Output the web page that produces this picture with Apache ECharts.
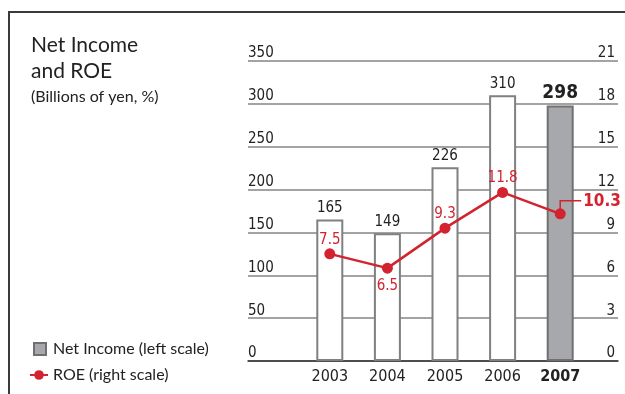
<!DOCTYPE html>
<html>
<head>
<meta charset="utf-8">
<script src="https://cdn.jsdelivr.net/npm/echarts@6/dist/echarts.min.js"></script>
<style>
  html, body { margin: 0; padding: 0; background: #fff; }
  #chart { width: 625px; height: 394px; }
</style>
</head>
<body>
<div id="chart"></div>
<script>
// Fiscal years and values
const years = ['2003', '2004', '2005', '2006', '2007'];
const netIncome = [165, 149, 226, 310, 298];   // billions of yen (left scale)
const roe = [7.5, 6.5, 9.3, 11.8, 10.3];        // percent (right scale)
const leftTicks = { min: 0, max: 350, interval: 50 };
const rightTicks = { min: 0, max: 21, interval: 3 };

const NARROW = '"DejaVu Sans Condensed", "Liberation Sans Narrow", sans-serif';
const HUMAN = 'Lato, "Open Sans", sans-serif';
const RED = '#d2232f';
const GRID_GRAY = '#858585';
const last = years.length - 1;

const chart = echarts.init(document.getElementById('chart'), null, { renderer: 'canvas' });

const option = {
  animation: false,
  backgroundColor: '#fff',
  textStyle: { fontFamily: NARROW },
  graphic: [{
    type: 'rect',
    shape: { x: 9, y: 12, width: 800, height: 600 },
    style: { fill: 'none', stroke: '#3a3a3a', lineWidth: 2 },
    silent: true
  }],
  title: {
    left: 31, top: 32, padding: 0,
    text: 'Net Income\nand ROE',
    textStyle: { fontFamily: HUMAN, fontSize: 21, fontWeight: 'normal', color: '#222', lineHeight: 26 },
    subtext: '(Billions of yen, %)',
    subtextStyle: { fontFamily: HUMAN, fontSize: 16, color: '#222' },
    itemGap: 5
  },
  legend: [{
    left: 33, top: 341, orient: 'vertical', padding: 0,
    data: [{ name: 'Net Income (left scale)', icon: 'rect' }],
    itemWidth: 12, itemHeight: 12,
    textStyle: { fontFamily: HUMAN, fontSize: 16, color: '#222', padding: [0, 0, 0, 2] },
    selectedMode: false
  }, {
    left: 29, top: 367, orient: 'vertical', padding: 0,
    data: [{ name: 'ROE (right scale)' }],
    itemWidth: 18, itemHeight: 12,
    textStyle: { fontFamily: HUMAN, fontSize: 16, color: '#222' },
    selectedMode: false
  }],
  grid: [
    // full-width panel carrying the gridlines and both scales
    { left: 248, right: 7, top: 61, bottom: 33 },
    // narrower panel holding the yearly columns
    { left: 301, width: 288, top: 61, bottom: 33 }
  ],
  xAxis: [{
    gridIndex: 0, type: 'value', min: 0, max: 1,
    axisLine: { show: true, lineStyle: { color: '#333', width: 1.5 } },
    axisTick: { show: false }, axisLabel: { show: false }, splitLine: { show: false }
  }, {
    gridIndex: 1, type: 'category',
    data: years.map((y, i) => i === last
      ? { value: y, textStyle: { fontWeight: 'bold' } }
      : y),
    axisLine: { show: false }, axisTick: { show: false },
    axisLabel: { fontFamily: NARROW, fontSize: 16, color: '#222', margin: 8 }
  }],
  yAxis: [{
    gridIndex: 0, position: 'left', ...leftTicks,
    axisLine: { show: false }, axisTick: { show: false },
    axisLabel: {
      inside: true, margin: 0, align: 'left', verticalAlign: 'bottom',
      fontFamily: NARROW, fontSize: 15, color: '#222'
    },
    splitLine: { show: true, lineStyle: { color: GRID_GRAY, width: 1.5 } }
  }, {
    gridIndex: 0, position: 'right', ...rightTicks,
    axisLine: { show: false }, axisTick: { show: false },
    axisLabel: {
      inside: true, margin: 3, align: 'right', verticalAlign: 'bottom',
      fontFamily: NARROW, fontSize: 15, color: '#222'
    },
    splitLine: { show: false }
  }, {
    gridIndex: 1, ...leftTicks, show: false
  }, {
    gridIndex: 1, ...rightTicks, show: false
  }],
  series: [{
    name: 'Net Income (left scale)',
    type: 'bar',
    xAxisIndex: 1, yAxisIndex: 2,
    barWidth: 27,
    itemStyle: { color: '#a7a8ab', borderColor: '#707070', borderWidth: 2 },
    label: {
      show: true, position: 'top', distance: 4,
      fontFamily: NARROW, fontSize: 15, color: '#222'
    },
    data: netIncome.map((v, i) => i === last
      ? { value: v, label: { fontSize: 19, fontWeight: 'bold', distance: 3 } }
      : { value: v, itemStyle: { color: '#fff', borderColor: '#808080' } }),
    z: 2
  }, {
    name: 'ROE (right scale)',
    type: 'line',
    xAxisIndex: 1, yAxisIndex: 3,
    symbol: 'circle', symbolSize: 11,
    itemStyle: { color: RED },
    lineStyle: { color: RED, width: 2.5 },
    label: {
      show: true, position: 'top', distance: 1,
      fontFamily: NARROW, fontSize: 15, color: RED
    },
    data: roe.map((v, i) => {
      if (i === last) return { value: v, label: { show: false } };
      if (i === 1) return { value: v, label: { position: 'bottom', distance: 5 } };
      return v;
    }),
    z: 5
  }, {
    // leader line and emphasised ROE label for the latest year
    type: 'custom',
    xAxisIndex: 1, yAxisIndex: 3,
    data: [[last, roe[last]]],
    renderItem: function (params, api) {
      const p = api.coord([api.value(0), api.value(1)]);
      const rise = 13;
      return {
        type: 'group',
        children: [{
          type: 'polyline',
          shape: { points: [[p[0], p[1] - 4], [p[0], p[1] - rise], [p[0] + 21, p[1] - rise]] },
          style: { stroke: RED, lineWidth: 1.5, fill: 'none' }
        }, {
          type: 'text',
          style: {
            x: p[0] + 23, y: p[1] - rise + 1,
            text: String(api.value(1)),
            fill: RED, font: 'bold 17px ' + NARROW,
            verticalAlign: 'middle', align: 'left'
          }
        }]
      };
    },
    z: 6,
    silent: true
  }]
};

chart.setOption(option);
</script>
</body>
</html>
